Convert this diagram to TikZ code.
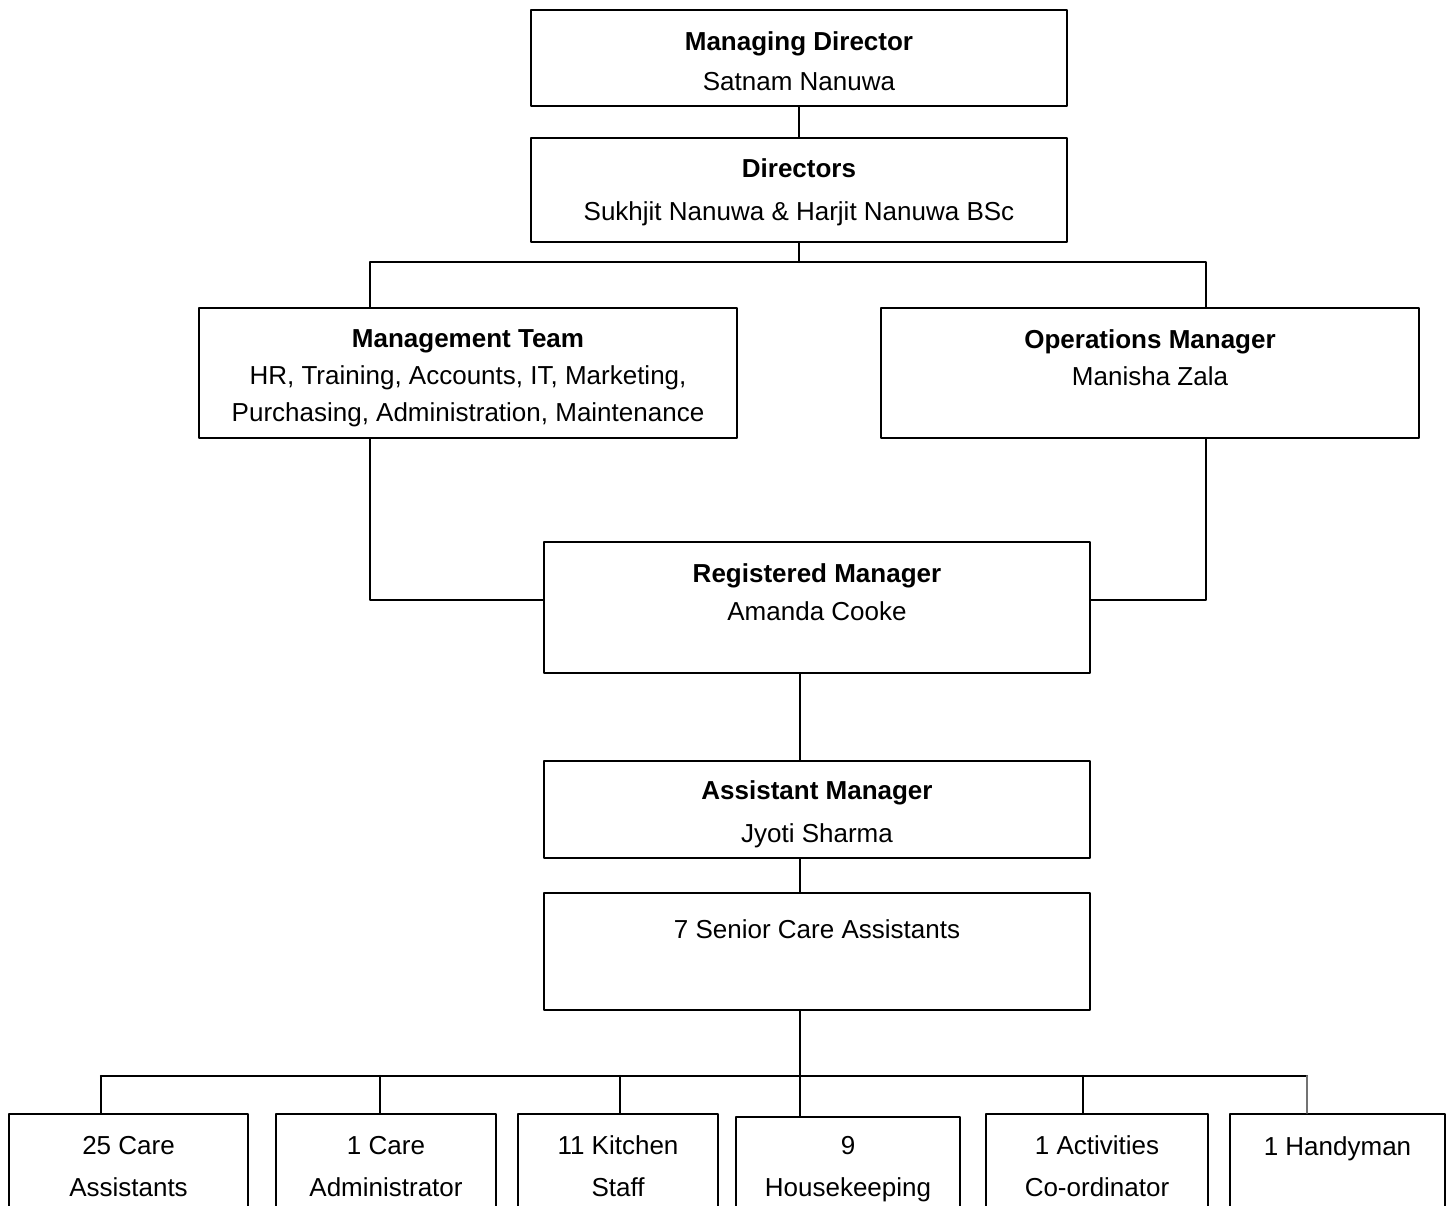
\documentclass[tikz,border=0pt]{standalone}
\usepackage{fontspec}
\setmainfont{Liberation Sans}
\usetikzlibrary{positioning}
\tikzset{
	box/.style={draw, inner sep=0pt},
	txt/.style={anchor=base, align=center, inner sep=0pt},
}
\begin{document}
\begin{tikzpicture}[font=\fontsize{13}{18.5}\selectfont, line join=round, line cap=round, line width=1.1pt, x=0.5pt, y=-0.5pt]
			\def \ybot{1260};
			\def \ybus{1076};
			\useasboundingbox (0,0) rectangle (1456,1205);
			\clip (0,0) rectangle (1456,1205);
			% boxes
			\node[box, minimum width=268pt, minimum height=48pt] (md) at (799,58) {};
			\node[box, minimum width=268pt, minimum height=52pt] (dir) at (799,190) {};
			\node[box, minimum width=269pt, minimum height=65pt] (mt) at (468,373) {};
			\node[box, minimum width=269pt, minimum height=65pt] (om) at (1150,373) {};
			\node[box, minimum width=273pt, minimum height=65.5pt] (rm) at (817,607.5) {};
			\node[box, minimum width=273pt, minimum height=48.5pt] (am) at (817,809.5) {};
			\node[box, minimum width=273pt, minimum height=58.5pt] (sca) at (817,951.5) {};
			% texts (base = last line)
			\node[txt] (mdt) at (799,90) {\textbf{Managing Director}\\[1.5pt]Satnam Nanuwa};
			\node[txt] (dirt) at (799,220) {\textbf{Directors}\\[3pt]Sukhjit Nanuwa \& Harjit Nanuwa BSc};
			\node[txt] (mtt) at (468,421) {\textbf{Management Team}\\HR, Training, Accounts, IT, Marketing,\\Purchasing, Administration, Maintenance};
			\node[txt] (omt) at (1150,385) {\textbf{Operations Manager}\\Manisha Zala};
			\node[txt] (rmt) at (817,620) {\textbf{Registered Manager}\\[0.5pt]Amanda Cooke};
			\node[txt] (amt) at (817,842) {\textbf{Assistant Manager}\\[3pt]Jyoti Sharma};
			\node[txt] (scat) at (817,938) {7 Senior Care Assistants};
			% staff row
			\foreach \n/\l/\r/\t/\b/\s in {b1/9/248/1114/1196/{25 Care\\[2.5pt]Assistants},b2/276/496/1114/1196/{1 Care\\[2.5pt]Administrator},b3/518/718/1114/1196/{11 Kitchen\\[2.5pt]Staff},b4/736/960/1117/1196/{9\\[2.5pt]Housekeeping},b5/986/1208/1114/1196/{1 Activities\\[2.5pt]Co-ordinator},b6/1230/1445/1114/1155/{1 Handyman}}{
				\node[box, minimum width={(\r-\l)*0.5pt}, minimum height={(\ybot-\t)*0.5pt}] (\n) at ({(\l+\r)/2},{(\t+\ybot)/2}) {};
				\node[txt] (\n t) at ({(\l+\r)/2},\b) {\s};
			}
			% connectors
			\coordinate (split) at (799,262);
			\coordinate (mtx) at (370,0);
			\coordinate (omx) at (1206,0);
			\coordinate (rmy) at (0,600);
			\coordinate (stem) at (800,0);
			\draw (md) -- (dir);
			\draw (dir) -- (split);
			\draw (mt.north -| mtx) |- (split) -| (om.north -| omx);
			\draw (mt.south -| mtx) |- (rm.west |- rmy);
			\draw (om.south -| omx) |- (rm.east |- rmy);
			\draw (rm.south -| stem) -- (am.north -| stem);
			\draw (am.south -| stem) -- (sca.north -| stem);
			\draw (sca.south -| stem) -- (b4.north -| stem);
			\coordinate (busl) at (101,\ybus);
			\coordinate (busr) at (1307,\ybus);
			\draw (busl) -- (busr);
			\foreach \n/\x in {b1/101,b2/380,b3/620,b5/1083}{
				\coordinate (d\n) at (\x,\ybus);
				\draw (d\n) -- (\n.north -| d\n);
			}
			\draw[black!55] (busr) -- (b6.north -| busr);
\end{tikzpicture}
\end{document}
